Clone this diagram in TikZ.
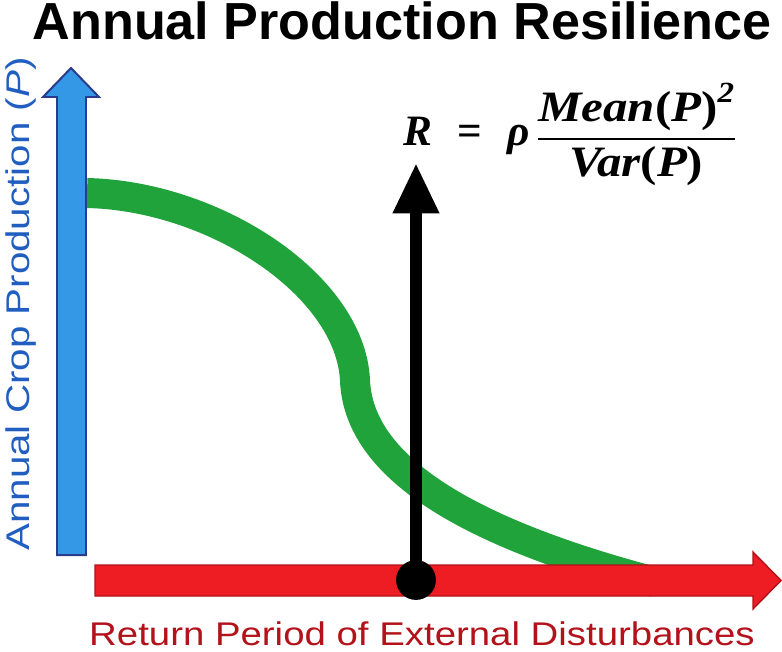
\documentclass[tikz,border=0pt]{standalone}
\usepackage{amsmath}
\usepackage{fontspec}
\setmainfont{Liberation Sans}
\newfontfamily\formfont{Liberation Serif}
\usepackage{graphicx}
\usetikzlibrary{arrows.meta}

\definecolor{ejeazul}{RGB}{52,152,230}
\definecolor{bordeazul}{RGB}{42,58,140}
\definecolor{textoazul}{RGB}{32,94,192}
\definecolor{ejerojo}{RGB}{238,29,35}
\definecolor{borderojo}{RGB}{176,18,24}
\definecolor{textorojo}{RGB}{180,18,27}
\definecolor{curvaverde}{RGB}{33,163,59}

\begin{document}
\begin{tikzpicture}[x=0.3mm,y=-0.3mm,
    etiqueta/.style={anchor=base,inner sep=0pt,font=\fontsize{28}{32}\selectfont}]
        \useasboundingbox (0,0) rectangle (782,651);

        % Titulo
        \node[anchor=base,inner sep=0pt] (titulo) at (402,40) {\fontsize{44.5}{48}\selectfont\bfseries Annual Production Resilience};

        % Curva de produccion
        \draw[curvaverde,line width=25.6pt] (87,193) .. controls (215,196) and (350,285) .. (355,380)
            .. controls (358,460) and (450,528) .. (655,582);

        % Ejes coordenados
        \filldraw[fill=ejeazul,draw=bordeazul,line width=1.7pt] (57,555) -- (57,97) -- (43,97) -- (71,68)
            -- (99,97) -- (86,97) -- (86,555) -- cycle;
        \filldraw[fill=ejerojo,draw=borderojo,line width=1.2pt] (95,565) -- (753,565) -- (753,552) -- (781,580.5)
            -- (753,609) -- (753,596) -- (95,596) -- cycle;

        % Etiquetas de los ejes
        \node[etiqueta,text=textoazul,rotate=90] (ylabel) at (29,304) {\scalebox{1.23}[1]{Annual Crop Production (\textit{P})}};
        \node[etiqueta,text=textorojo] (xlabel) at (422,645) {\scalebox{1.17}[1]{Return Period of External Disturbances}};

        % Resiliencia
        \node[circle,fill=black,inner sep=0pt,minimum size=34pt] (punto) at (416,580) {};
        \coordinate (rtip) at (416,163);
        \draw[line width=10.2pt,-{Triangle[length=43pt,width=37pt]}] (punto.center) -- (rtip);
        \node[anchor=base west,inner sep=0pt] (formula) at (403,146)
            {\fontsize{37}{42}\selectfont\formfont\bfseries\itshape
             $\displaystyle\mbox{R}\hspace{22pt}\mbox{\upshape=}\hspace{21pt}\mbox{ρ}\hspace{6pt}
             \scalebox{1.13}[1]{$\displaystyle\genfrac{}{}{2pt}{0}{\mbox{Mean{\upshape(}P{\upshape)}}^{\mbox{\fontsize{25}{28}\selectfont 2}}}{\mbox{Var{\upshape(}P{\upshape)}}}$}$};
    \end{tikzpicture}
\end{document}
